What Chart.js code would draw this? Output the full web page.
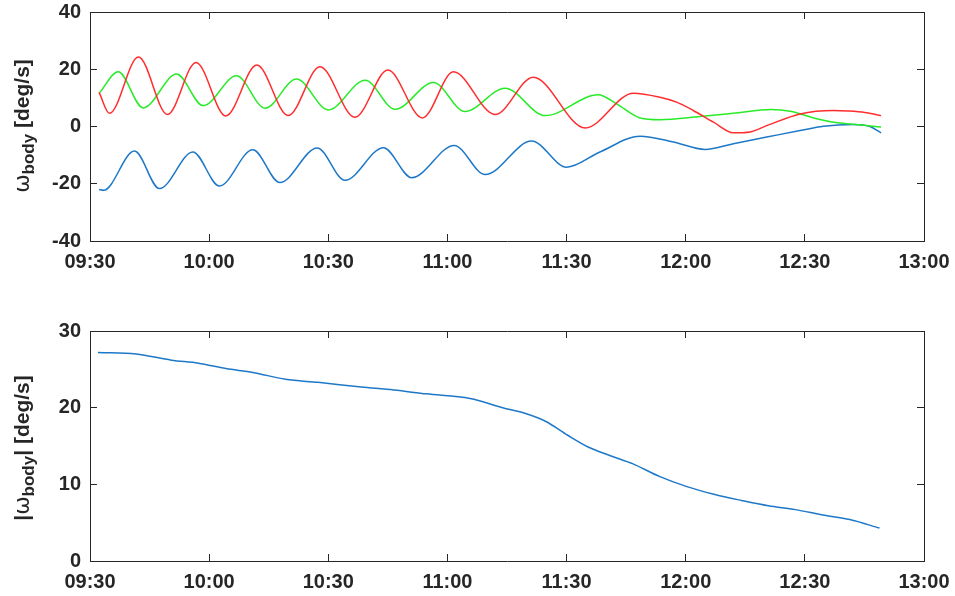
<!DOCTYPE html>
<html>
<head>
<meta charset="utf-8">
<script src="https://cdn.jsdelivr.net/npm/chart.js@4"></script>
<style>
body{margin:0;background:#fff;}
#wrap{position:relative;width:955px;height:596px;overflow:hidden;}
canvas{position:absolute;left:0;}
.ylab{position:absolute;left:24px;transform:translate(-50%,-50%) rotate(-90deg);white-space:nowrap;
  font:bold 21px "Liberation Sans",Arial,sans-serif;color:#262626;}
.ylab .w{font-weight:normal;font-family:"DejaVu Sans",sans-serif;font-size:22px;}
.ylab sub{font-size:17px;vertical-align:-0.35em;}
</style>
</head>
<body>
<div id="wrap">
  <canvas id="topChart" width="967" height="312" style="top:-16px"></canvas>
  <canvas id="botChart" width="967" height="300" style="top:296px"></canvas>
  <div class="ylab" style="top:126px"><span class="w">ω</span><sub>body</sub> [deg/s]</div>
  <div class="ylab" style="top:448px">|<span class="w">ω</span><sub>body</sub>| [deg/s]</div>
</div>
<script>
// time in minutes after 09:30
const startMin = 570;
const xTicksMin = 570, xTicksMax = 780;

// top plot: body rates
const redT = [2.3, 4.9, 12.2, 19.5, 26.7, 34.2, 42.0, 49.9, 57.9, 66.7, 75.0, 83.7, 91.5, 102.0, 111.6, 124.7, 136.8, 143.5, 147.7, 151.9, 157.0, 162.0, 166.2, 170.4, 178.8, 187.2, 191.0, 195.1, 199.2];
const redV = [11.9, 4.6, 24.3, 4.2, 22.4, 3.7, 21.5, 3.8, 20.9, 3.2, 19.7, 3.0, 19.1, 4.2, 17.2, -0.5, 11.6, 10.2, 8.5, 5.6, 1.5, -2.2, -1.9, 0.3, 4.4, 5.6, 5.4, 4.9, 3.8];

const greenT = [2.3, 7.1, 13.4, 21.8, 28.5, 36.9, 44.1, 52.0, 60.0, 69.3, 76.8, 86.5, 94.4, 104.5, 114.6, 128.0, 132.6, 138.5, 143.5, 153.6, 162.0, 171.5, 176.3, 183.0, 187.2, 192.0, 196.5, 199.2];
const greenV = [11.6, 19.1, 6.5, 18.3, 7.3, 17.7, 6.4, 16.6, 5.8, 16.2, 6.0, 15.4, 5.2, 13.4, 3.8, 11.1, 7.9, 3.0, 2.4, 3.5, 4.6, 5.9, 5.3, 2.7, 1.5, 0.8, 0.2, -0.2];

const blueT = [2.3, 3.4, 11.2, 17.5, 25.9, 32.6, 41.0, 47.8, 57.2, 64.2, 73.9, 81.0, 91.7, 99.5, 111.2, 120.0, 128.4, 138.5, 146.9, 154.9, 162.0, 170.4, 178.8, 184.7, 192.2, 196.4, 199.2];
const blueV = [-22.0, -22.3, -8.6, -21.7, -8.9, -20.8, -8.1, -19.6, -7.5, -18.8, -7.4, -17.9, -6.6, -16.8, -5.1, -14.2, -8.9, -3.4, -5.4, -8.0, -6.0, -3.7, -1.4, 0.1, 0.7, 0.0, -2.2];

// bottom plot: magnitude
const magT = [2.0, 11.6, 20.5, 27.3, 34.2, 41.0, 49.2, 57.4, 68.3, 76.5, 84.7, 95.7, 103.9, 109.3, 114.8, 120.3, 125.7, 131.2, 136.6, 143.5, 150.3, 157.1, 164.0, 170.8, 177.6, 184.5, 191.3, 198.8];
const magV = [27.2, 27.0, 26.2, 25.8, 25.1, 24.6, 23.7, 23.3, 22.7, 22.3, 21.8, 21.2, 20.0, 19.3, 18.2, 16.4, 14.8, 13.7, 12.7, 11.0, 9.7, 8.7, 7.9, 7.2, 6.7, 6.0, 5.4, 4.3];

const topY = {min: -40, max: 40, step: 20};
const botY = {min: 0, max: 30, step: 10};

const ink = '#262626';
const tickFont = {family: '"Liberation Sans", Arial, sans-serif', size: 20, weight: 'bold'};

function pts(t, v){ return t.map((m, i) => ({x: m + startMin, y: v[i]})); }
function hhmm(v){
  const h = Math.floor(v / 60), m = v % 60;
  return String(h).padStart(2, '0') + ':' + String(m).padStart(2, '0');
}
function line(data, color){
  return {data: data, borderColor: color, borderWidth: 1.5, pointRadius: 0,
          cubicInterpolationMode: 'monotone', fill: false};
}

// one axis of the box; ticks point inwards like matlab
function axis(pos, show, size, range){
  const horiz = pos === 'top' || pos === 'bottom';
  return {
    type: 'linear', position: pos,
    min: horiz ? xTicksMin : range.min,
    max: horiz ? xTicksMax : range.max,
    grid: {drawOnChartArea: false, drawTicks: true, tickLength: -7, tickColor: ink, lineWidth: 1},
    border: {display: true, color: ink, width: 1},
    ticks: {display: show, stepSize: horiz ? 30 : range.step, color: ink, font: tickFont, padding: 16,
            maxRotation: 0, autoSkip: false,
            callback: horiz ? (v => hhmm(v)) : (v => v)},
    afterFit: s => { if (horiz) s.height = size; else s.width = size; }
  };
}

function makeChart(id, sets, yr, topH, botH){
  new Chart(document.getElementById(id), {
    type: 'line',
    data: {datasets: sets},
    options: {
      responsive: false, animation: false, devicePixelRatio: 1,
      layout: {padding: 0},
      plugins: {legend: {display: false}, tooltip: {enabled: false}},
      scales: {
        x: axis('bottom', true, botH, yr),
        x2: axis('top', false, topH, yr),
        y: axis('left', true, 90, yr),
        y2: axis('right', false, 43, yr)
      }
    }
  });
}

makeChart('topChart', [
  line(pts(redT, redV), 'rgb(255,45,45)'),
  line(pts(greenT, greenV), 'rgb(40,235,40)'),
  line(pts(blueT, blueV), 'rgb(30,120,200)')
], topY, 28, 55);

makeChart('botChart', [
  line(pts(magT, magV), 'rgb(30,120,200)')
], botY, 35, 35);
</script>
</body>
</html>
